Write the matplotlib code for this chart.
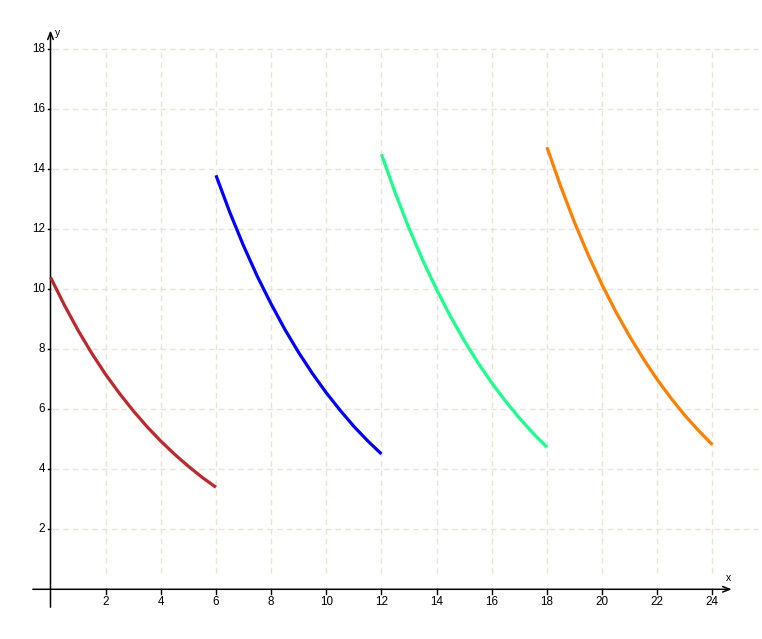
import matplotlib
matplotlib.use("Agg")
import matplotlib.pyplot as plt

# Data (half-hour steps)
t1 = [0, 0.5, 1, 1.5, 2, 2.5, 3, 3.5, 4, 4.5, 5, 5.5, 6]
y1 = [10.40, 9.48, 8.63, 7.86, 7.16, 6.53, 5.95, 5.42, 4.94, 4.50, 4.10, 3.73, 3.40]
t2 = [6, 6.5, 7, 7.5, 8, 8.5, 9, 9.5, 10, 10.5, 11, 11.5, 12]
y2 = [13.80, 12.57, 11.45, 10.43, 9.51, 8.66, 7.89, 7.19, 6.55, 5.97, 5.43, 4.95, 4.51]
t3 = [12, 12.5, 13, 13.5, 14, 14.5, 15, 15.5, 16, 16.5, 17, 17.5, 18]
y3 = [14.50, 13.21, 12.03, 10.96, 9.99, 9.10, 8.29, 7.55, 6.88, 6.27, 5.71, 5.20, 4.74]
t4 = [18, 18.5, 19, 19.5, 20, 20.5, 21, 21.5, 22, 22.5, 23, 23.5, 24]
y4 = [14.74, 13.43, 12.23, 11.14, 10.15, 9.25, 8.43, 7.68, 6.99, 6.37, 5.80, 5.29, 4.82]

xticks = [2, 4, 6, 8, 10, 12, 14, 16, 18, 20, 22, 24]
yticks = [2, 4, 6, 8, 10, 12, 14, 16, 18]

plt.rcParams['font.family'] = ['Liberation Sans', 'DejaVu Sans']

fig = plt.figure(figsize=(7.62, 6.39), dpi=100)
ax = fig.add_axes([0, 0, 1, 1])
ax.set_xlim(-1.831, 25.80)
ax.set_ylim(-1.657, 19.643)
ax.axis('off')

grid_c = '#e9e5d2'
for gx in xticks:
    ax.plot([gx, gx], [0.55, 18], color=grid_c, lw=1.0, ls=(0, (4, 3)), zorder=1)
for gy in yticks:
    ax.plot([0.1, 25.65], [gy, gy], color=grid_c, lw=1.0, ls=(0, (4, 3)), zorder=1)

# axes lines with arrows
ax.annotate('', xy=(24.8, 0), xytext=(-0.74, 0),
            arrowprops=dict(arrowstyle='->,head_length=0.5,head_width=0.2', color='black', lw=1.1),
            zorder=3)
ax.annotate('', xy=(0, 18.72), xytext=(0, -0.69),
            arrowprops=dict(arrowstyle='->,head_length=0.5,head_width=0.2', color='black', lw=1.1),
            zorder=3)

# ticks
for gx in xticks:
    ax.plot([gx, gx], [0, -0.15], color='black', lw=1.0, zorder=3)
    ax.text(gx, -0.22, str(gx), ha='center', va='top', fontsize=8.4)
for gy in yticks:
    ax.plot([-0.1, 0], [gy, gy], color='black', lw=1.0, zorder=3)
    ax.text(-0.2, gy, str(gy), ha='right', va='center', fontsize=8.4)

ax.text(24.6, 0.2, 'x', ha='center', va='bottom', fontsize=7.5)
ax.text(0.15, 18.55, 'y', ha='left', va='center', fontsize=7.5)

lw = 2.3
ax.plot(t1, y1, color='#c0272d', lw=lw, zorder=4, solid_capstyle='butt')
ax.plot(t2, y2, color='#0000ff', lw=lw, zorder=4, solid_capstyle='butt')
ax.plot(t3, y3, color='#19ff8c', lw=lw, zorder=4, solid_capstyle='butt')
ax.plot(t4, y4, color='#ff8000', lw=lw, zorder=4, solid_capstyle='butt')

fig.savefig('out.png', dpi=100)
